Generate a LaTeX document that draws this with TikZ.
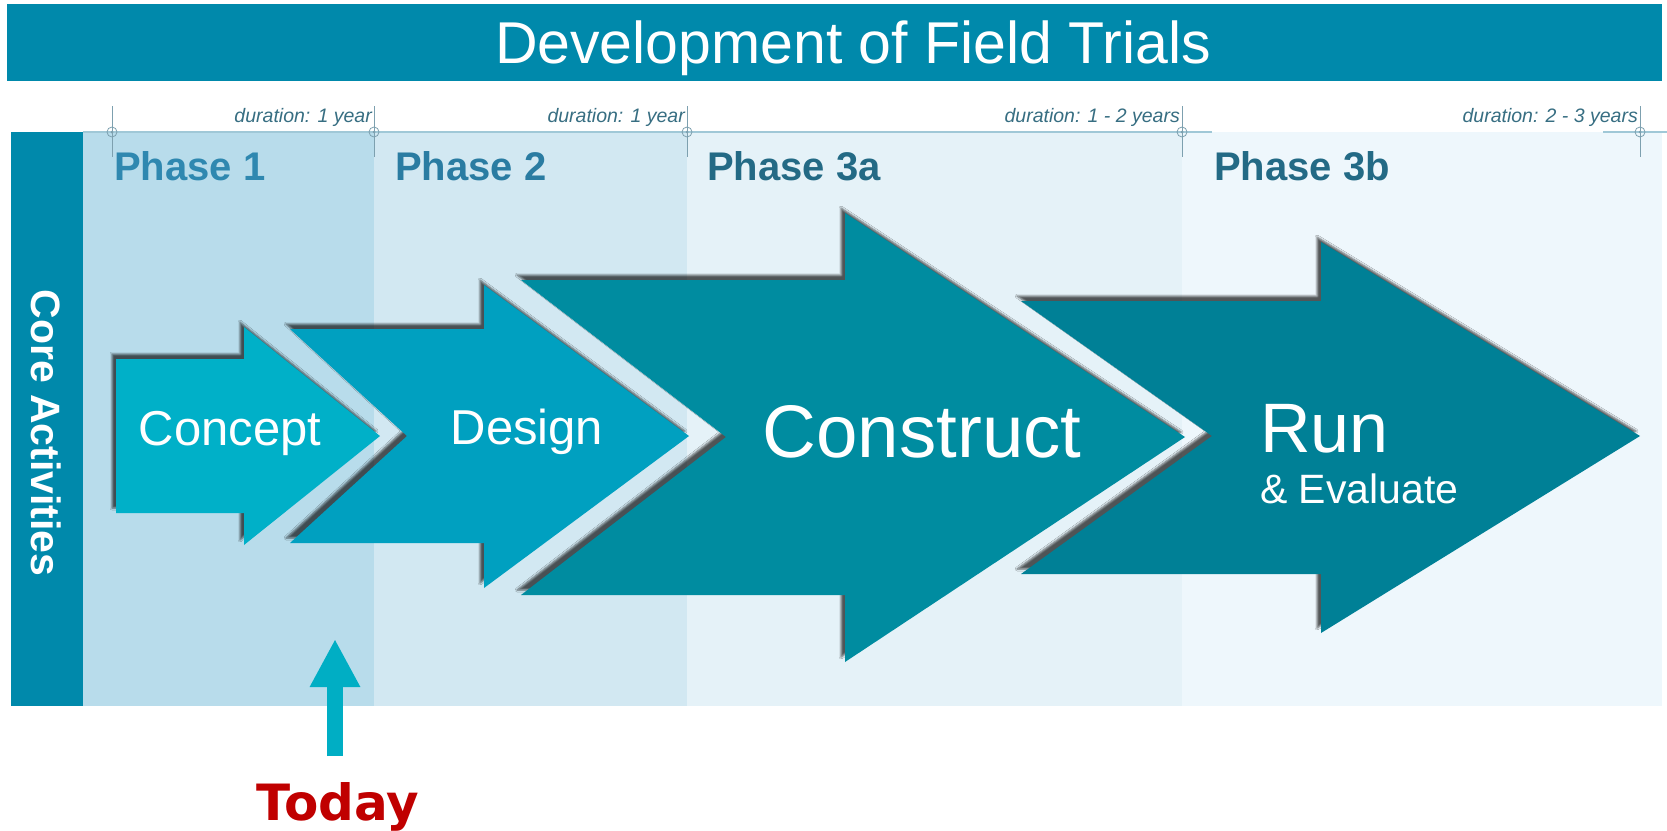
\documentclass[tikz,border=0pt]{standalone}
\usepackage{fontspec}
\setmainfont{Liberation Sans}
\newfontfamily\todayfont{DejaVu Sans}
\usepackage{tikz}
\usetikzlibrary{arrows.meta,shadows.blur}

\definecolor{titlebar}{RGB}{0,137,171}
\definecolor{phA}{RGB}{184,220,235}
\definecolor{phB}{RGB}{210,232,242}
\definecolor{phC}{RGB}{229,242,248}
\definecolor{phD}{RGB}{238,247,252}
\definecolor{rulecol}{RGB}{160,200,215}
\definecolor{markcol}{RGB}{125,160,175}
\definecolor{durtext}{RGB}{55,110,130}
\definecolor{phAtext}{RGB}{47,136,176}
\definecolor{phBtext}{RGB}{42,124,162}
\definecolor{phCtext}{RGB}{35,106,133}
\definecolor{conceptcol}{RGB}{0,176,200}
\definecolor{designcol}{RGB}{0,160,192}
\definecolor{constructcol}{RGB}{0,140,160}
\definecolor{runcol}{RGB}{0,128,150}
\definecolor{todaycol}{RGB}{0,174,196}
\definecolor{todayred}{RGB}{192,0,0}

\begin{document}
\begin{tikzpicture}[x=1pt,y=-1pt,>={Triangle[length=48pt,width=47pt]}]
  \tikzstyle{dur}=[font=\fontsize{19.5}{22}\selectfont\itshape,text=durtext,inner sep=0pt]
  \tikzstyle{phase}=[font=\fontsize{40}{46}\selectfont\bfseries,inner sep=0pt,anchor=base west]
  \tikzstyle{big}=[text=white,inner sep=0pt,anchor=base]
  \tikzstyle{shade}=[blur shadow={shadow xshift=-4pt,shadow yshift=5pt,shadow blur radius=2pt,shadow opacity=65}]
  \tikzstyle{mark line}=[markcol,line width=0.8pt]

  \useasboundingbox (0,0) rectangle (1667,830);
  \fill[white] (0,0) rectangle (1667,830);

  % title bar
  \fill[titlebar] (7,4) rectangle (1662,81);
  \node[big, font=\fontsize{59}{70}\selectfont] (T) at (853,63) {Development of Field Trials};

  % phase columns
  \fill[phA] (83,132) rectangle (374,706);
  \fill[phB] (374,132) rectangle (687,706);
  \fill[phC] (687,132) rectangle (1182,706);
  \fill[phD] (1182,132) rectangle (1662,706);
  \fill[titlebar] (11,132) rectangle (83,706);
  \draw[rulecol, line width=1.2pt] (83,132) -- (1212,132) (1603,132) -- (1667,132);

  \foreach \x in {112,374,687,1182,1640}{
    \draw[mark line] (\x,106) -- (\x,157);
    \draw[mark line] (\x,132) circle[radius=5pt];
    \fill[markcol] (\x,132) circle[radius=1.5pt];
  }

  \node[dur, anchor=base east] (d1) at (372,122) {duration: 1 year};
  \node[dur, anchor=base east] (d2) at (685,122) {duration: 1 year};
  \node[dur, anchor=base east] (d3) at (1180,122) {duration: 1 - 2 years};
  \node[dur, anchor=base east] (d4) at (1638,122) {duration: 2 - 3 years};

  \node[phase, text=phAtext] (p1) at (114,180) {Phase 1};
  \node[phase, text=phBtext] (p2) at (395,180) {Phase 2};
  \node[phase, text=phCtext] (p3) at (707,180) {Phase 3a};
  \node[phase, text=phCtext] (p4) at (1214,180) {Phase 3b};

  \node[big, font=\fontsize{41}{48}\selectfont\bfseries, rotate=-90] (CA) at (31,433) {Core Activities};

  % the four activity arrows
  \fill[conceptcol, shade] (116,359) -- (244,359) -- (244,327) -- (380,436)
        -- (244,545) -- (244,513) -- (116,513) -- cycle;
  \fill[designcol, shade] (290,329) -- (484,329) -- (484,285) -- (689,436)
        -- (484,588) -- (484,543) -- (290,543) -- (407,436) -- cycle;
  \fill[constructcol, shade] (521,280) -- (845,280) -- (845,213) -- (1185,437)
        -- (845,662) -- (845,595) -- (521,595) -- (726,437) -- cycle;
  \fill[runcol, shade] (1021,301) -- (1321,301) -- (1321,242) -- (1640,436)
        -- (1321,633) -- (1321,574) -- (1021,574) -- (1212,436) -- cycle;

  \node[big, font=\fontsize{49}{58}\selectfont] (C) at (230,445) {Concept};
  \node[big, font=\fontsize{49}{58}\selectfont] (D) at (527,444) {Design};
  \node[big, font=\fontsize{74.5}{86}\selectfont] (K) at (922,457) {Construct};
  \node[big, font=\fontsize{70}{80}\selectfont, anchor=base west] (R) at (1260,452) {Run};
  \node[big, font=\fontsize{41}{48}\selectfont, anchor=base west] (E) at (1260,503) {\& Evaluate};

  % today marker
  \node[font=\todayfont\fontsize{50}{60}\selectfont\bfseries, text=todayred, inner sep=0pt, anchor=base] (N) at (338,820) {Today};
  \coordinate (U) at (335,756);
  \coordinate (V) at (335,639);
  \draw[->, todaycol, line width=16pt] (U) -- (V);
\end{tikzpicture}
\end{document}
